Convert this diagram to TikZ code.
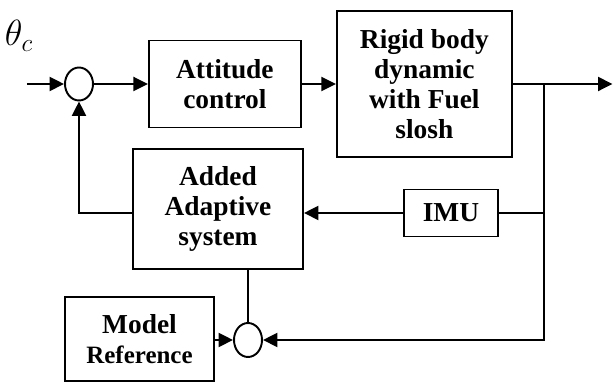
\documentclass[tikz,border=0pt]{standalone}
\usepackage{fontspec}
\setmainfont{Liberation Serif}
\usetikzlibrary{positioning}
\usetikzlibrary{shapes.geometric}
\usetikzlibrary{arrows.meta}
\tikzstyle{blocknode} = [draw, rectangle, line width=1.1pt, inner sep=0pt, align=center, font=\bfseries\fontsize{15.6}{17.2}\selectfont]
\tikzstyle{sumnode} = [draw, ellipse, line width=1.1pt, minimum width=0.56cm, minimum height=0.66cm, inner sep=0pt]
\tikzstyle{sigline} = [line width=1.1pt, -{Triangle[length=2.9mm, width=2.8mm]}]
\tikzstyle{plainline} = [line width=1.1pt]

\begin{document}
\begin{tikzpicture}
  \useasboundingbox (0,0) rectangle (12.26,-7.66);

  \node[sumnode] (s1) at (1.58,-1.68) {};
  \node[blocknode, minimum width=3.04cm, minimum height=1.74cm, right=1.08cm of s1] (att) {Attitude\\control};
  \node[blocknode, minimum width=3.5cm, minimum height=2.92cm, right=0.68cm of att] (rigid) {Rigid body\\dynamic\\with Fuel\\slosh};
  \coordinate (in) at (0.54,-1.68);
  \coordinate (br) at (10.88,-1.68);
  \coordinate (out) at (12.25,-1.68);
  \node at (0.38,-0.72) {\fontsize{21}{23}\selectfont$\theta_c$};

  \node[blocknode, minimum width=1.88cm, minimum height=0.94cm] (imu) at (9.02,-4.26) {IMU};
  \node[blocknode, minimum width=3.4cm, minimum height=2.4cm] (adapt) at (4.36,-4.18) {Added\\Adaptive\\system};
  \node[sumnode, minimum height=0.68cm] (s2) at (4.96,-6.80) {};
  \node[blocknode, minimum width=2.98cm, minimum height=1.68cm] (model) at (2.79,-6.78) {Model\\{\fontsize{14.2}{15.6}\selectfont Reference}};

  \draw[sigline] (in) -- (s1);
  \draw[sigline] (s1) -- (att);
  \draw[sigline] (att) -- (rigid);
  \draw[sigline] (rigid) -- (out);
  \draw[sigline] (br) |- (s2);
  \draw[plainline] (br |- imu) -- (imu);
  \draw[sigline] (imu.west) -- (imu.west -| adapt.east);
  \draw[sigline] (adapt.west |- imu.west) -| (s1);
  \draw[plainline] (s2 |- adapt.south) -- (s2);
  \draw[sigline] (model.east |- s2) -- (s2);
\end{tikzpicture}
\end{document}
